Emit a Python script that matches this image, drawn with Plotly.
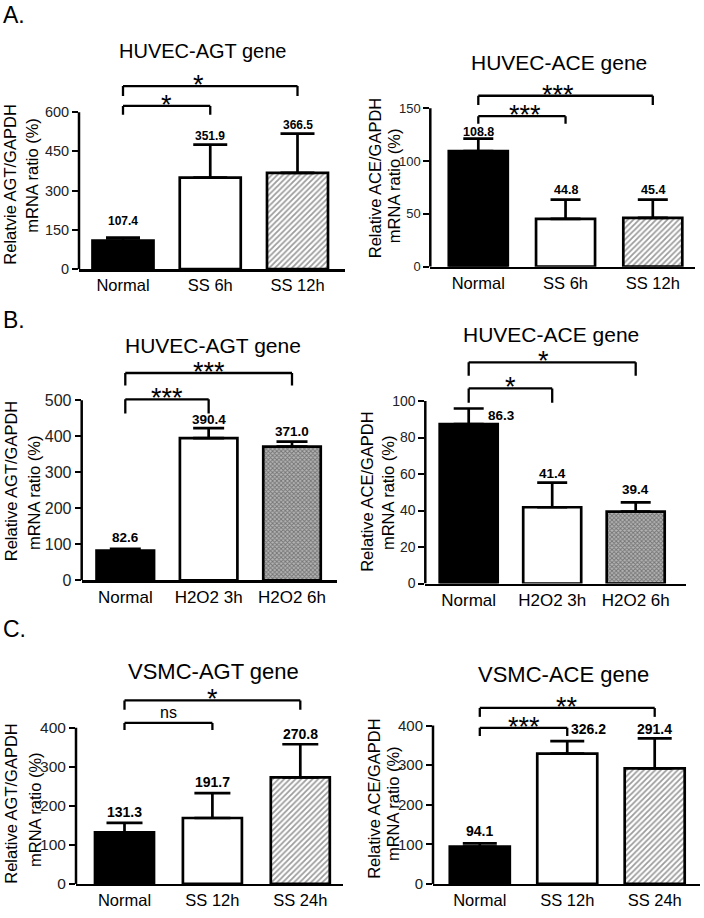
import plotly.graph_objects as go

W, H = 704, 918
FONT = "Arial, 'Liberation Sans', sans-serif"

# ---------------- data ----------------
cats_ss_6_12 = ["Normal", "SS 6h", "SS 12h"]
cats_h2o2 = ["Normal", "H2O2 3h", "H2O2 6h"]
cats_ss_12_24 = ["Normal", "SS 12h", "SS 24h"]

# A. HUVEC-AGT (shear stress)
a_agt_vals = [109, 350, 368]
a_agt_err = [11, 126, 150]
a_agt_lbl = ["107.4", "351.9", "366.5"]
a_agt_sig = ["*", "*"]

# A. HUVEC-ACE (shear stress)
a_ace_vals = [109.4, 45.3, 46.2]
a_ace_err = [11.8, 18.1, 17.2]
a_ace_lbl = ["108.8", "44.8", "45.4"]
a_ace_sig = ["***", "***"]

# B. HUVEC-AGT (H2O2)
b_agt_vals = [82.6, 395, 371.6]
b_agt_err = [4.4, 28, 13.4]
b_agt_lbl = ["82.6", "390.4", "371.0"]
b_agt_sig = ["***", "***"]

# B. HUVEC-ACE (H2O2)
b_ace_vals = [87.4, 41.8, 39.4]
b_ace_err = [8.5, 13.5, 5.1]
b_ace_lbl = ["86.3", "41.4", "39.4"]
b_ace_sig = ["*", "*"]

# C. VSMC-AGT
c_agt_vals = [132, 169, 273]
c_agt_err = [24.5, 63.6, 84.9]
c_agt_lbl = ["131.3", "191.7", "270.8"]
c_agt_sig = ["ns", "*"]

# C. VSMC-ACE
c_ace_vals = [94.2, 329, 291.7]
c_ace_err = [8.3, 31.8, 75.8]
c_ace_lbl = ["94.1", "326.2", "291.4"]
c_ace_sig = ["***", "**"]

comparisons = [(0, 1), (0, 2)]

# ---------------- layout config (pixels) ----------------
panels = [
    dict(cats=cats_ss_6_12, vals=a_agt_vals, err=a_agt_err, lbl=a_agt_lbl, sig=a_agt_sig,
         title="HUVEC-AGT gene", ytitle=["Relatvie AGT/GAPDH", "mRNA ratio (%)"],
         left=79, right=345, y0=271.7, tickpx=113.3, tickmax=600, dtick=150, top=80,
         centers=[123, 210.5, 297.5], barw=61, cap=17,
         brackets=[(624, 590), (700, 662)], starx=[0, -12],
         lbloff=[(0, 17), (0, 9), (0, 9)],
         tpos=(202, 52, 20), ypos=[(10.5, 187), (32.5, 177)],
         tickfont=14.5, xfont=16.5, valfont=12, pat="hatch"),
    dict(cats=cats_ss_6_12, vals=a_ace_vals, err=a_ace_err, lbl=a_ace_lbl, sig=a_ace_sig,
         title="HUVEC-ACE gene", ytitle=["Relative ACE/GAPDH", "mRNA ratio (%)"],
         left=430.3, right=695, y0=269.3, tickpx=109.3, tickmax=150, dtick=50, top=90,
         centers=[478.3, 567.5, 652.8], barw=59, cap=15,
         brackets=[(142.5, 135.3), (161.8, 153.1)], starx=[3, -8],
         lbloff=[(0, 7), (0, 10), (0, 10)],
         tpos=(558.7, 62.7, 21), ypos=[(375, 180), (394, 188)],
         tickfont=13, xfont=16.5, valfont=12.5, pat="hatch"),
    dict(cats=cats_h2o2, vals=b_agt_vals, err=b_agt_err, lbl=b_agt_lbl, sig=b_agt_sig,
         title="HUVEC-AGT gene", ytitle=["Relative AGT/GAPDH", "mRNA ratio (%)"],
         left=81.7, right=337, y0=586, tickpx=404.3, tickmax=500, dtick=100, top=370,
         centers=[125.3, 208.2, 292], barw=57.5, cap=15.5,
         brackets=[(502.7, 463.1), (575.9, 541.3)], starx=[0, 0],
         lbloff=[(0, 11), (0, 9), (0, 10)],
         tpos=(213.3, 349, 21), ypos=[(11, 486), (34, 498)],
         tickfont=16, xfont=17, valfont=13.5, pat="dense"),
    dict(cats=cats_h2o2, vals=b_ace_vals, err=b_ace_err, lbl=b_ace_lbl, sig=b_ace_sig,
         title="HUVEC-ACE gene", ytitle=["Relative ACE/GAPDH", "mRNA ratio (%)"],
         left=425.3, right=686, y0=589.3, tickpx=405, tickmax=100, dtick=20, top=358,
         centers=[468.7, 551.7, 635.7], barw=58, cap=15,
         brackets=[(106.9, 99.1), (121.2, 113.9)], starx=[0, -9],
         lbloff=[(0.39, -7), (0, 9), (0, 13)],
         tpos=(551, 337.5, 21), ypos=[(367, 496.7), (388, 498)],
         tickfont=14, xfont=17, valfont=13.5, pat="dense"),
    dict(cats=cats_ss_12_24, vals=c_agt_vals, err=c_agt_err, lbl=c_agt_lbl, sig=c_agt_sig,
         title="VSMC-AGT gene", ytitle=["Relative AGT/GAPDH", "mRNA ratio (%)"],
         left=76, right=343, y0=892.7, tickpx=735, tickmax=400, dtick=100, top=700,
         centers=[124.5, 212.5, 300.3], barw=59, cap=18,
         brackets=[(412.6, 394.1), (470.2, 446.4)], starx=[0, 0],
         lbloff=[(0, 11), (0, 11), (0, 10.6)],
         tpos=(213.3, 678, 22), ypos=[(11, 811.7), (35, 818)],
         tickfont=15.5, xfont=16.5, valfont=14, pat="hatch"),
    dict(cats=cats_ss_12_24, vals=c_ace_vals, err=c_ace_err, lbl=c_ace_lbl, sig=c_ace_sig,
         title="VSMC-ACE gene", ytitle=["Relative ACE/GAPDH", "mRNA ratio (%)"],
         left=433, right=700, y0=892.7, tickpx=732.7, tickmax=400, dtick=100, top=705,
         centers=[479.8, 567.7, 654.7], barw=60, cap=17,
         brackets=[(394.3, 373.5), (444.3, 421.8)], starx=[0, 0],
         lbloff=[(0, 12), (0.247, 11.7), (0, 9)],
         tpos=(563.7, 680.7, 22), ypos=[(374, 806.7), (393, 812)],
         tickfont=15, xfont=16.5, valfont=14, pat="hatch"),
]

letters = [("A.", 15), ("B.", 323.3), ("C.", 635)]

fig = go.Figure()
shapes = []
annotations = []
layout = dict(width=W, height=H, margin=dict(l=0, r=0, t=0, b=0),
              paper_bgcolor="white", plot_bgcolor="white", showlegend=False,
              font=dict(family=FONT, color="black"))

LW = 2.7


def pattern_for(kind):
    if kind == "hatch":
        return dict(shape="/", fgcolor="#3a3a3a", bgcolor="white", size=4, solidity=0.45)
    return dict(shape="x", fgcolor="#333333", bgcolor="#b4b4b4", size=3, solidity=0.5)


for n, p in enumerate(panels, start=1):
    xs = "" if n == 1 else str(n)
    xa, ya = "x" + xs, "y" + xs
    c0, c2 = p["centers"][0], p["centers"][2]
    d = (c2 - c0) / 2.0
    xlo = (p["left"] - c0) / d
    xhi = (p["right"] - c0) / d
    scale = (p["y0"] - p["tickpx"]) / p["tickmax"]
    ytop = (p["y0"] - p["top"]) / scale
    idx = list(range(len(p["cats"])))

    fills = ["black", "white", "white"]
    patterns = [None, None, pattern_for(p["pat"])]
    for i in idx:
        mk = dict(color=fills[i], line=dict(color="black", width=LW))
        if patterns[i]:
            mk["pattern"] = patterns[i]
        fig.add_trace(go.Bar(
            x=[i], y=[p["vals"][i]], width=p["barw"] / d, marker=mk,
            error_y=dict(type="data", symmetric=False, array=[p["err"][i]], arrayminus=[0],
                         color="black", thickness=LW, width=p["cap"]),
            xaxis=xa, yaxis=ya, hoverinfo="skip"))

    layout["xaxis" + xs] = dict(domain=[p["left"] / W, p["right"] / W], range=[xlo, xhi],
                                anchor=ya, tickvals=idx, ticktext=p["cats"], ticks="",
                                showline=True, linewidth=2.5, linecolor="black",
                                showgrid=False, zeroline=False,
                                tickfont=dict(family=FONT, size=p["xfont"], color="black"))
    layout["yaxis" + xs] = dict(domain=[1 - p["y0"] / H, 1 - p["top"] / H], range=[0, ytop],
                                anchor=xa, tickvals=list(range(0, p["tickmax"] + 1, p["dtick"])),
                                ticks="outside", ticklen=6, tickwidth=2, tickcolor="black",
                                showline=False, showgrid=False, zeroline=False,
                                tickfont=dict(family=FONT, size=p["tickfont"], color="#222"))

    # y axis line only up to the top tick
    shapes.append(dict(type="line", xref=xa + " domain", yref=ya, x0=0, x1=0,
                       y0=0, y1=p["tickmax"], line=dict(color="black", width=2.5)))

    # significance brackets
    for (a, b), (lev, drop), s, sx in zip(comparisons, p["brackets"], p["sig"], p["starx"]):
        for x0, y0_, x1, y1_ in [(a, drop, a, lev), (a, lev, b, lev), (b, lev, b, drop)]:
            shapes.append(dict(type="line", xref=xa, yref=ya, x0=x0, x1=x1, y0=y0_, y1=y1_,
                               line=dict(color="black", width=2.3)))
        if s == "ns":
            annotations.append(dict(x=(a + b) / 2, y=lev, xref=xa, yref=ya, text=s,
                                    showarrow=False, xanchor="center", yanchor="middle",
                                    yshift=10, xshift=sx,
                                    font=dict(family=FONT, size=16, color="black")))
        else:
            annotations.append(dict(x=(a + b) / 2, y=lev, xref=xa, yref=ya, text=s,
                                    showarrow=False, xanchor="center", yanchor="middle",
                                    yshift=1, xshift=sx,
                                    font=dict(family=FONT, size=27, color="black")))

    # value labels
    for i in idx:
        dx, dy = p["lbloff"][i]
        annotations.append(dict(x=i + dx, y=p["vals"][i] + p["err"][i], xref=xa, yref=ya,
                                text="<b>%s</b>" % p["lbl"][i], showarrow=False,
                                xanchor="center", yanchor="middle", yshift=dy,
                                font=dict(family=FONT, size=p["valfont"], color="black")))

    # title
    tx, ty, tsz = p["tpos"]
    annotations.append(dict(x=tx / W, y=1 - ty / H, xref="paper", yref="paper",
                            text=p["title"], showarrow=False, xanchor="center",
                            yanchor="middle", font=dict(family=FONT, size=tsz, color="black")))
    # y axis title (two lines)
    for txt, (yx, yy) in zip(p["ytitle"], p["ypos"]):
        annotations.append(dict(x=yx / W, y=1 - yy / H, xref="paper", yref="paper",
                                text=txt, showarrow=False, textangle=-90,
                                xanchor="center", yanchor="middle",
                                font=dict(family=FONT, size=16.5, color="black")))

for txt, ly in letters:
    annotations.append(dict(x=1 / W, y=1 - ly / H, xref="paper", yref="paper", text=txt,
                            showarrow=False, xanchor="left", yanchor="middle",
                            font=dict(family=FONT, size=23, color="black")))

layout["shapes"] = shapes
layout["annotations"] = annotations
fig.update_layout(**layout)
fig.write_html("out.html", config={"displayModeBar": False, "staticPlot": True},
               post_script="document.body.style.margin='0';document.body.style.overflow='hidden';")
